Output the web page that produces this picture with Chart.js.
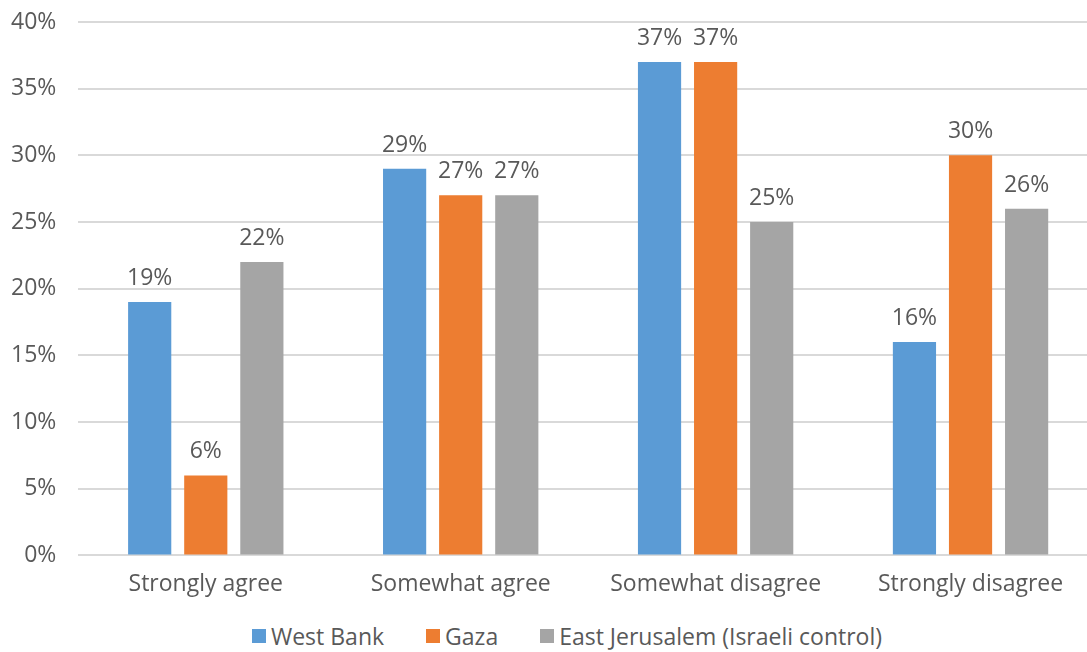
<!DOCTYPE html>
<html>
<head>
<meta charset="utf-8">
<script src="https://cdn.jsdelivr.net/npm/chart.js@4"></script>
<style>
  html, body { margin: 0; padding: 0; background: #fff; overflow: hidden; }
  #wrap { width: 1100px; height: 615px; position: relative; }
  #legend {
    width: 1134px; height: 42px; display: flex; justify-content: center; align-items: center;
    font-family: "Open Sans", Lato, sans-serif; font-size: 23px; color: #595959;
  }
  #legend .item { display: flex; align-items: center; margin: 0 21px; white-space: nowrap; }
  #legend .box { width: 14px; height: 14px; margin-right: 5px; }
</style>
</head>
<body>
<div id="wrap"><canvas id="chart"></canvas></div>
<div id="legend"></div>
<script>
const categories = ['Strongly agree', 'Somewhat agree', 'Somewhat disagree', 'Strongly disagree'];
const westBank = [19, 29, 37, 16];
const gaza = [6, 27, 37, 30];
const eastJerusalem = [22, 27, 25, 26];
const yTicks = [0, 5, 10, 15, 20, 25, 30, 35, 40];

const FONT = '"Open Sans", Lato, sans-serif';
const TEXT = '#595959';
const SIZE = 23;

// value labels above each bar
const barLabels = {
  id: 'barLabels',
  afterDatasetsDraw(chart) {
    const ctx = chart.ctx;
    ctx.save();
    ctx.font = SIZE + 'px ' + FONT;
    ctx.fillStyle = TEXT;
    ctx.textAlign = 'center';
    ctx.textBaseline = 'alphabetic';
    chart.data.datasets.forEach((ds, i) => {
      chart.getDatasetMeta(i).data.forEach((bar, j) => {
        ctx.fillText(ds.data[j] + '%', bar.x, bar.y - 17);
      });
    });
    ctx.restore();
  },
};

// legend as html under the canvas, built from the datasets
const htmlLegend = {
  id: 'htmlLegend',
  afterUpdate(chart) {
    const box = document.getElementById('legend');
    box.innerHTML = '';
    chart.data.datasets.forEach((ds) => {
      const item = document.createElement('div');
      item.className = 'item';
      const sw = document.createElement('span');
      sw.className = 'box';
      sw.style.background = ds.backgroundColor;
      const txt = document.createElement('span');
      txt.textContent = ds.label;
      item.appendChild(sw);
      item.appendChild(txt);
      box.appendChild(item);
    });
  },
};

new Chart(document.getElementById('chart'), {
  type: 'bar',
  data: {
    labels: categories,
    datasets: [
      { label: 'West Bank', data: westBank, backgroundColor: '#5B9BD5' },
      { label: 'Gaza', data: gaza, backgroundColor: '#ED7D31' },
      { label: 'East Jerusalem (Israeli control)', data: eastJerusalem, backgroundColor: '#A5A5A5' },
    ],
  },
  options: {
    responsive: true,
    maintainAspectRatio: false,
    animation: false,
    datasets: {
      bar: { barPercentage: 0.77, categoryPercentage: 0.66 },
    },
    layout: { padding: { top: 22, right: 2, left: -11, bottom: 2 } },
    plugins: {
      tooltip: { enabled: false },
      legend: { display: false },
    },
    scales: {
      x: {
        grid: { display: false, drawTicks: false },
        border: { display: false },
        ticks: { color: TEXT, font: { family: FONT, size: SIZE }, padding: 15 },
      },
      y: {
        min: 0,
        max: 40,
        afterBuildTicks(axis) { axis.ticks = yTicks.map((v) => ({ value: v })); },
        afterFit(axis) { axis.paddingTop = 0; axis.paddingBottom = 0; },
        grid: { color: '#D9D9D9', lineWidth: 2, drawTicks: false },
        border: { display: false },
        ticks: {
          color: TEXT,
          font: { family: FONT, size: SIZE },
          padding: 22,
          callback: (v) => v + '%',
        },
      },
    },
  },
  plugins: [barLabels, htmlLegend],
});
</script>
</body>
</html>
